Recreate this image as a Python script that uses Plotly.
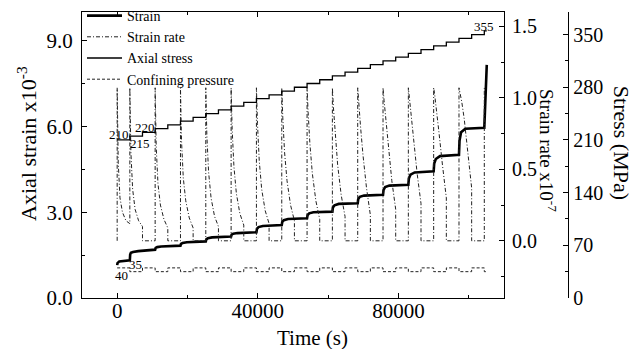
import plotly.graph_objects as go

# ---------------- data ----------------
strain_time = [0, 100, 600, 3600, 3700, 3900, 4500, 6000, 10800, 10950, 11400, 12500,
               18000, 18150, 18600, 19800, 25200, 25350, 25800, 27000, 32400, 32550, 33000, 34200,
               39600, 39750, 40200, 41400, 46800, 46950, 47400, 48600, 54000, 54150, 54600, 55800,
               61200, 61350, 61800, 63000, 68400, 68550, 69000, 70200, 75600, 75750, 76200, 77400,
               82800, 82950, 83400, 84600, 90000, 90150, 90600, 91800, 97200, 97350, 97800, 99000,
               104400, 104600, 105100]
strain_val = [1.15, 1.22, 1.28, 1.32, 1.52, 1.58, 1.61, 1.64, 1.69, 1.75, 1.78, 1.80,
              1.83, 1.89, 1.92, 1.95, 1.98, 2.05, 2.09, 2.12, 2.15, 2.22, 2.25, 2.27,
              2.30, 2.42, 2.48, 2.52, 2.55, 2.66, 2.72, 2.76, 2.79, 2.90, 2.96, 3.00,
              3.02, 3.17, 3.24, 3.29, 3.31, 3.46, 3.54, 3.58, 3.61, 3.78, 3.88, 3.93,
              3.96, 4.18, 4.31, 4.39, 4.43, 4.70, 4.86, 4.96, 5.01, 5.50, 5.80, 5.92,
              5.95, 6.60, 8.15]

sr_spike_times = [0, 3600, 10800, 18000, 25200, 32400, 39600, 46800, 54000, 61200,
                  68400, 75600, 82800, 90000, 97200]
sr_last_spike = 104400
sr_offsets = [0, 300, 800, 1500, 2500, 3600]
sr_decay = [
    [1.07, 0.55, 0.30, 0.20, 0.14, 0.12],
    [1.07, 0.62, 0.36, 0.22, 0.14, 0.10],
    [1.07, 0.66, 0.40, 0.25, 0.15, 0.09],
    [1.07, 0.70, 0.44, 0.28, 0.16, 0.09],
    [1.07, 0.74, 0.48, 0.30, 0.17, 0.10],
    [1.07, 0.78, 0.52, 0.33, 0.19, 0.11],
    [1.07, 0.82, 0.56, 0.36, 0.21, 0.12],
    [1.07, 0.86, 0.62, 0.42, 0.25, 0.14],
    [1.07, 0.90, 0.68, 0.47, 0.28, 0.15],
    [1.07, 0.93, 0.74, 0.53, 0.32, 0.17],
    [1.07, 0.96, 0.80, 0.60, 0.37, 0.18],
    [1.07, 0.98, 0.84, 0.65, 0.42, 0.22],
    [1.07, 1.00, 0.88, 0.70, 0.47, 0.26],
    [1.07, 1.02, 0.92, 0.76, 0.53, 0.30],
    [1.07, 1.04, 0.97, 0.85, 0.62, 0.37],
]
sr_base = 0.0
sr_peak = 1.07

stress_time = [0, 3600, 7200, 10800, 14400, 18000, 21600, 25200, 28800, 32400, 36000,
               39600, 43200, 46800, 50400, 54000, 57600, 61200, 64800, 68400, 72000,
               75600, 79200, 82800, 86400, 90000, 93600, 97200, 100800, 104400, 105100]
stress_val = [210, 215, 220, 225, 230, 235, 240, 245, 250, 255, 260, 265, 270, 275, 280,
              285, 290, 295, 300, 305, 310, 315, 320, 325, 330, 335, 340, 345, 350, 355, 355]

conf_time = [0, 3600, 7200, 10800, 14400, 18000, 21600, 25200, 28800, 32400, 36000,
             39600, 43200, 46800, 50400, 54000, 57600, 61200, 64800, 68400, 72000,
             75600, 79200, 82800, 86400, 90000, 93600, 97200, 100800, 104400, 105200]
conf_val = [40, 35, 40, 35, 40, 35, 40, 35, 40, 35, 40, 35, 40, 35, 40, 35, 40, 35, 40, 35,
            40, 35, 40, 35, 40, 35, 40, 35, 40, 35, 35]

x_ticks = [0, 40000, 80000]
strain_ticks = [0, 3, 6, 9]
rate_ticks = [0, 0.5, 1.0, 1.5]
stress_ticks = [0, 70, 140, 210, 280, 350]

# labels on the plot (text, time, stress)
point_labels = [("210", 464, 217.9), ("215", 6407, 205.9), ("220", 7773, 225.9),
                ("40", 1290, 29.9), ("35", 5213, 44.5), ("355", 104313, 361.4)]

# ---------------- build strain-rate path ----------------
all_spikes = sr_spike_times + [sr_last_spike]
sr_x, sr_y = [sr_spike_times[0]], [sr_base]
for i, T in enumerate(sr_spike_times):
    nxt = all_spikes[i + 1]
    for off, v in zip(sr_offsets, sr_decay[i]):
        sr_x.append(T + off)
        sr_y.append(v)
    if nxt - T > sr_offsets[-1]:
        sr_x += [T + sr_offsets[-1], nxt]
        sr_y += [sr_base, sr_base]
sr_x.append(sr_last_spike)
sr_y.append(sr_peak)

FONT = "Liberation Serif"
ML, MR, MT, MB = 82, 70, 12, 51
W, H = 644, 349
PW = W - ML - MR
PH = H - MT - MB


def px2paper_x(px):
    return (px - ML) / PW


def px2paper_y(py):
    return (MT + PH - py) / PH


fig = go.Figure()
fig.add_trace(go.Scatter(x=strain_time, y=strain_val, name="Strain", mode="lines",
                         line=dict(color="black", width=2.6), yaxis="y"))
fig.add_trace(go.Scatter(x=sr_x, y=sr_y, name="Strain rate", mode="lines",
                         line=dict(color="#222", width=1, dash="4px,2px,1px,2px"), yaxis="y2"))
fig.add_trace(go.Scatter(x=stress_time, y=stress_val, name="Axial stress", mode="lines",
                         line=dict(color="black", width=1.3, shape="hv"), yaxis="y3"))
fig.add_trace(go.Scatter(x=conf_time, y=conf_val, name="Confining pressure", mode="lines",
                         line=dict(color="#222", width=1, dash="3px,2px", shape="hv"), yaxis="y3"))

xend = px2paper_x(504)
axis_common = dict(showgrid=False, zeroline=False, showline=True, linecolor="black",
                   linewidth=1, ticks="inside", ticklen=5, tickcolor="black",
                   automargin=False)

fig.update_layout(
    width=W, height=H,
    margin=dict(l=ML, r=MR, t=MT, b=MB, autoexpand=False),
    paper_bgcolor="white", plot_bgcolor="white",
    font=dict(family=FONT, color="black"),
    showlegend=True,
    legend=dict(x=0.0, y=1.0, xref="paper", yref="container", xanchor="left", yanchor="top",
                bgcolor="rgba(0,0,0,0)",
                font=dict(family=FONT, size=14, color="black"), tracegroupgap=0, itemwidth=35),
    xaxis=dict(domain=[0, xend], range=[-10000, 110000], tickvals=x_ticks,
               ticktext=[str(v) for v in x_ticks], mirror="ticks",
               tickfont=dict(size=21, family=FONT), ticklabelstandoff=-6,
               minor=dict(dtick=20000, tick0=0, ticklen=3, ticks="inside", tickcolor="black"),
               **axis_common),
    yaxis=dict(range=[0, 10], tickvals=strain_ticks,
               ticktext=["%.1f" % v for v in strain_ticks],
               tickfont=dict(size=21, family=FONT), ticklabelstandoff=4,
               minor=dict(dtick=1.5, tick0=0, ticklen=3, ticks="inside", tickcolor="black"),
               **axis_common),
    yaxis2=dict(range=[-0.4, 1.6], overlaying="y", side="right", anchor="x",
                tickvals=rate_ticks, ticktext=["%.1f" % v for v in rate_ticks],
                tickfont=dict(size=20, family=FONT), ticklabelstandoff=3,
                minor=dict(dtick=0.25, tick0=0, ticklen=3, ticks="inside", tickcolor="black"),
                **axis_common),
    yaxis3=dict(range=[0, 380], overlaying="y", side="right", anchor="free",
                position=px2paper_x(568.3),
                tickvals=stress_ticks, ticktext=[str(v) for v in stress_ticks],
                tickfont=dict(size=20, family=FONT), ticklabelstandoff=0,
                minor=dict(dtick=35, tick0=0, ticklen=3, ticks="inside", tickcolor="black"),
                **axis_common),
)

annotations = [
    dict(text="Axial strain x10<sup>-3</sup>", x=px2paper_x(27), y=px2paper_y(144),
         textangle=-90, font=dict(size=22, family=FONT)),
    dict(text="Strain rate x10<sup>-7</sup>", x=px2paper_x(548), y=px2paper_y(150),
         textangle=90, font=dict(size=19, family=FONT)),
    dict(text="Stress (MPa)", x=px2paper_x(621.7), y=px2paper_y(142.5),
         textangle=90, font=dict(size=22, family=FONT)),
    dict(text="Time (s)", x=px2paper_x(312.5), y=px2paper_y(338),
         font=dict(size=21, family=FONT)),
]
for a in annotations:
    a.update(xref="paper", yref="paper", xanchor="center", yanchor="middle", showarrow=False)

for txt, t, s in point_labels:
    annotations.append(dict(text=txt, x=t, y=s, xref="x", yref="y3", showarrow=False,
                            xanchor="center", yanchor="middle",
                            font=dict(size=13, family=FONT)))

fig.update_layout(annotations=annotations)
fig.write_html("out.html")
